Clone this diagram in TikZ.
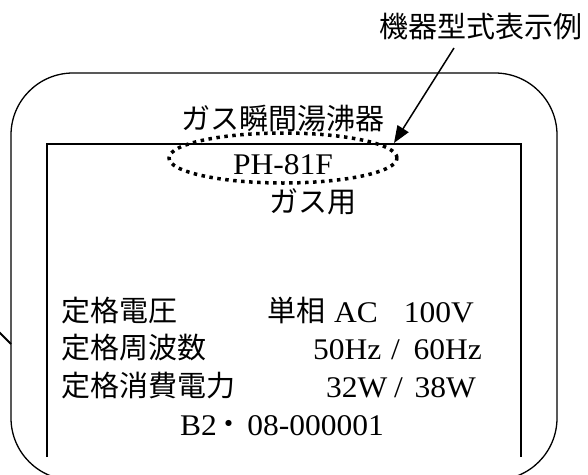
\documentclass[tikz,border=0pt]{standalone}
\usepackage{fontspec}
\setmainfont{Liberation Serif}[FakeStretch=1.05]
\newfontfamily\jpfont{Noto Sans CJK JP}
\usetikzlibrary{arrows.meta,shapes.geometric}
\begin{document}
\begin{tikzpicture}[x=1pt,y=1pt,
  jt/.style={font=\jpfont\fontsize{29}{29}\selectfont, inner sep=0pt},
  lt/.style={font=\fontsize{30}{30}\selectfont, inner sep=0pt},
  outerbox/.style={line width=1.3pt, rounded corners=62pt},
  innerbox/.style={line width=2pt},
  dotoval/.style={draw, ellipse, line width=3.5pt, dash pattern=on 3.5pt off 4.5pt, inner sep=0pt, minimum width=228pt, minimum height=50pt},
  pointer/.style={line width=1.5pt, -{Triangle[length=17pt,width=13pt]}}]
\useasboundingbox (0,0) rectangle (588,-474);
\clip (0,0) rectangle (588,-474);
% frames
\draw[outerbox] (11,-73) rectangle (557,-480);
\draw[innerbox] (47,-457) -- (47,-144) -- (521,-144) -- (521,-457);
% left leader stub
\coordinate (ls) at (-1,-332);
\coordinate (le) at (11,-344);
\draw[line width=2pt] (ls) -- (le);
% title label and arrow
\node[jt] (lab) at (481,-27) {機器型式表示例};
\coordinate (as) at (454,-48);
\coordinate (at) at (394,-143);
\draw[pointer] (as) -- (at);
% top texts
\node[jt] (t1) at (283,-118) {ガス瞬間湯沸器};
\node[lt, anchor=base] (model) at (283,-174) {PH-81F};
\node[dotoval] (oval) at (283,-158) {};
\node[jt] (t2) at (313,-202) {ガス用};
% row 1
\node[jt, anchor=base west] (r1a) at (61,-321) {定格電圧};
\node[jt, anchor=base west] (r1b) at (267,-321) {単相};
\node[lt, anchor=base west] (r1c) at (334,-322) {AC};
\node[lt, anchor=base east] (r1d) at (474,-322) {100V};
% row 2
\node[jt, anchor=base west] (r2a) at (61,-358) {定格周波数};
\node[lt, anchor=base west] (r2b) at (313,-359) {50Hz};
\node[lt, anchor=base] (r2c) at (395.5,-359) {/};
\node[lt, anchor=base east] (r2d) at (482,-359) {60Hz};
% row 3
\node[jt, anchor=base west] (r3a) at (61,-396) {定格消費電力};
\node[lt, anchor=base west] (r3b) at (326,-397) {32W};
\node[lt, anchor=base] (r3c) at (398.5,-397) {/};
\node[lt, anchor=base east] (r3d) at (476,-397) {38W};
% row 4
\node[lt, anchor=base west] (r4a) at (180,-435) {B2};
\node[jt, anchor=base] (r4b) at (229,-434) {・};
\node[lt, anchor=base east] (r4c) at (384,-435) {08-000001};
\end{tikzpicture}
\end{document}
